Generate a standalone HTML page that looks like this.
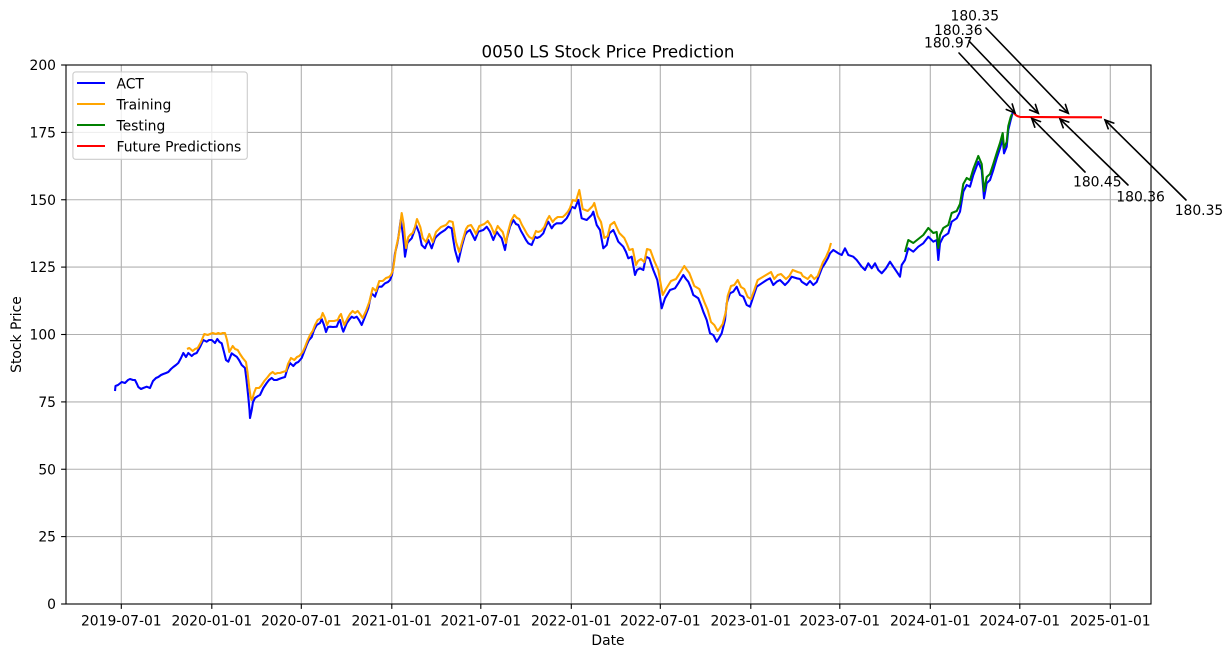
<!DOCTYPE html>
<html><head><meta charset="utf-8"><style>
html,body{margin:0;padding:0;background:#fff;}
svg{display:block;font-family:"DejaVu Sans","Liberation Sans",sans-serif;}
</style></head><body>
<svg width="1232" height="657" viewBox="0 0 1232 657" xmlns="http://www.w3.org/2000/svg">
<rect x="0" y="0" width="1232" height="657" fill="#fff"/>
<!-- grid -->
<g stroke="#b0b0b0" stroke-width="1.1" fill="none">
<line x1="121.3" y1="65" x2="121.3" y2="604"/>
<line x1="211.8" y1="65" x2="211.8" y2="604"/>
<line x1="301.3" y1="65" x2="301.3" y2="604"/>
<line x1="391.8" y1="65" x2="391.8" y2="604"/>
<line x1="480.8" y1="65" x2="480.8" y2="604"/>
<line x1="571.3" y1="65" x2="571.3" y2="604"/>
<line x1="660.3" y1="65" x2="660.3" y2="604"/>
<line x1="750.8" y1="65" x2="750.8" y2="604"/>
<line x1="839.8" y1="65" x2="839.8" y2="604"/>
<line x1="930.3" y1="65" x2="930.3" y2="604"/>
<line x1="1019.8" y1="65" x2="1019.8" y2="604"/>
<line x1="1110.3" y1="65" x2="1110.3" y2="604"/>
<line x1="66" y1="536.6" x2="1151" y2="536.6"/>
<line x1="66" y1="469.25" x2="1151" y2="469.25"/>
<line x1="66" y1="401.9" x2="1151" y2="401.9"/>
<line x1="66" y1="334.5" x2="1151" y2="334.5"/>
<line x1="66" y1="267.1" x2="1151" y2="267.1"/>
<line x1="66" y1="199.75" x2="1151" y2="199.75"/>
<line x1="66" y1="132.4" x2="1151" y2="132.4"/>
</g>
<!-- series -->
<g fill="none" stroke-width="2.08" stroke-linejoin="round" stroke-linecap="butt">
<polyline stroke="#0000ff" points="115,391 115.5,386 118,385 121.7,382 125,383 128,380 130,379 133,380 135,380 137,384 138.3,387 141,389 143.3,388 146.7,386.7 150,388 153,381 156,378 158.3,377 161,375 163.3,374 166,373 168.3,372 171,369 173.3,367 176,365 178.3,363 181,358 183.3,353 186,357 188.3,353 191.7,356 194,354 196.7,353 200,347 203.3,340 206.7,341.7 209,340 211.7,340 215,343 217.3,339 219.5,342 221.7,343.3 224,352 226,360 228.3,361.7 231.7,353.3 234,355 236.7,356.7 239,360 241.7,365 245,368 246.5,380 248.3,397 249.5,410 250,418 251.7,410 253,402 255,398 258,396 260,395 263.3,388 266.7,383 269,380 271.7,378 274,380 276.7,380 279,379 281.7,378 285,377 287,370 290,363 293.3,366 296,363 298.3,362 301.7,358 304,352 306.7,345 309,340 311.7,337 314,330 316.7,325 320,323 321.7,319 324,325 326,332 328,327 330,326.7 333,327 336.7,326.7 338.5,322 340,320 342,328 343.3,331.7 346.7,323.3 349,320 351.7,316.7 354,318 356.7,316.7 359,320 361.7,325 365,316.7 368.3,308.3 370,300 371.7,293.3 375,296.7 378.3,286.7 381.7,286.7 385,283.3 388,282 390,280 392,275 393.3,266.7 395,253.3 397,245 398.3,238 400.7,220 402.7,233 404,245 405,256.7 407.3,243.3 409,241 411.7,238.3 414,232 416,225 419.3,233.3 421.7,245 425,248.3 428.3,240 431.7,248.3 435,238.3 437,236 440,233.3 445,230 448.3,226.7 451.7,228.3 453,238 455,250 458.3,261.7 461.7,246.7 465,235 467,232 470,230 473,236 475,240 478.3,231.7 483.3,230 486.7,226.7 490,231.7 493.3,240 496.7,231.7 499,235 501.7,238.3 505,250 507,238 510,226.7 513.3,220 516,224 518.3,225 521,231 523.3,235 526,240 528.3,243.3 531.7,245 535,236.7 537,238 540,236.7 543.3,233.3 546,226 548.3,221.7 551.7,228.3 554,225 556.7,223.3 561.7,223.3 564,221 566.7,218.3 569,214 571.7,206.7 575,208.3 578.3,200 581.7,218.3 586.7,220 591.7,215 593.3,211.7 596.7,225 600,230 603.3,248.3 606.7,245 609.3,233.3 613.3,230 616,236 618.3,241.7 623.3,246.7 626,252 628.3,258.3 631.7,256.7 635,275 637,270 640,268.3 643.3,270 646,256.7 649.3,258.3 653.3,270 657.3,280 659,290 661.7,308.3 665,298.3 670,290 675,288.3 678.3,283.3 683.3,275 686,279 688.3,281.7 691,288 693.3,295 698.3,298.3 701,305 703.3,311.7 706.7,320 710,333.3 713.3,335 716.7,341.7 719,338 721.7,333.3 725,320 726.7,303.3 730,293.3 733.3,291.7 736.7,286.7 740,295 743.3,296.7 746.7,305 750,306.7 753.3,296.7 756.7,286.7 761.7,283.3 766.7,280 770,278.3 773.3,285 776.7,281.7 780,280 785,285 788.3,281.7 791.7,276.7 796.7,278.3 800,279 801.7,281.7 806.7,285 810,281 813.3,285 816.7,282 819.3,275 822,268 825,263.3 828,258 830,253.3 833.3,250 838.3,253.3 841.7,255 845,248.3 848.3,255 853.3,256.7 856.7,260 861.7,266.7 865,270 868.3,263.3 871.7,268.3 875,263.3 878.3,270 881.7,273.3 886,268.3 890,261.7 893.3,266.7 896.7,271.7 900,276.7 901.7,265 905,260 908.3,248.3 913.3,251.7 918.3,246.7 923.3,243.3 928.3,236.7 933.3,241.7 936.7,240 938.3,260 940,243.3 943.3,236.7 948.3,233.3 951.7,221.7 956.7,218.3 960,211.7 963.3,191.7 966.7,185 970,186.7 973.3,175 978.3,161.7 981.7,170 984,198.3 986.7,183.3 990,180 993.3,170 996.7,158.3 1000,148.3 1002.7,138.3 1004,153.3 1006.7,146.7 1008.3,130 1010.7,120 1012.7,112.7"/>
<polyline stroke="#ffa500" points="187,349 189.3,348 192.7,351 195,349 197.7,348 201,342 204.3,334 207.7,335 210,334 212.7,333 216,334 218.3,333 220.5,334 222.7,333 225,333 227,340 229.3,352 232.7,346 235,349 237.7,350 240,354 242.7,358 246,362 247.5,372 249.3,388 250.5,396 251.5,400 252.7,398 254,393 256,388 259,388 261,386 264.3,381 267.7,377 270,374 272.7,372 275,374 277.7,373 280,373 282.7,372 286,371 288,364 291,358 294.3,360 297,357 299.3,356 302.7,352 305,347 307.7,340 310,335 312.7,331 315,325 317.7,320 321,318 322.7,313 325,318 327,325 329,321 331,321 334,321 337.7,320 339.5,316 341,314 343,321 344.3,325 347.7,318 350,314 352.7,311 355,313 357.7,311 360,314 362.7,318 366,311 369.3,302 371,295 372.7,288 376,291 379.3,281 382.7,281 386,278 389,277 391,275 393,270 394.3,261 396,248 398,239 399.3,232 401.7,213 403.7,224 405,238 406,248 408.3,237 410,235 412.7,233 415,227 417,219 420.3,227 422.7,238 426,242 429.3,234 432.7,242 436,232 438,230 441,227 446,225 449.3,221 452.7,222 454,230 456,242 459.3,252 462.7,240 466,229 468,226 471,225 474,230 476,234 479.3,226 484.3,224 487.7,221 491,226 494.3,234 497.7,226 500,229 502.7,232 506,243 508,232 511,221 514.3,215 517,218 519.3,219 522,225 524.3,229 527,234 529.3,237 532.7,239 536,231 538,232 541,231 544.3,227 547,220 549.3,216 552.7,222 555,219 557.7,217 562.7,217 565,215 567.7,212 570,208 572.7,200 576,201 579.3,190 582.7,209 587.7,211 592.7,206 594.3,203 597.7,216 601,222 604.3,238 607.7,236 610.3,225 614.3,222 617,228 619.3,233 624.3,238 627,244 629.3,250 632.7,249 636,265 638,261 641,259 644.3,262 647,249 650.3,250 654.3,261 658.3,270 660,280 662.7,295 666,289 671,281 676,279 679.3,274 684.3,266 687,270 689.3,273 692,280 694.3,286 699.3,289 702,296 704.3,302 707.7,310 711,322 714.3,325 717.7,331 720,328 722.7,324 726,311 727.7,296 731,286 734.3,285 737.7,280 741,287 744.3,289 747.7,297 751,299 754.3,290 757.7,280 762.7,277 767.7,274 771,272 774.3,279 777.7,275 781,274 786,279 789.3,276 792.7,270 797.7,272 801,273 802.7,276 807.7,279 811,275 814.3,279 817.7,276 820.3,269 823,262 826,257 829,250 831,243"/>
<polyline stroke="#008000" points="905,252 908.3,240 913.3,243 918.3,239 923.3,235 928.3,228 933.3,233 936.7,232 938.3,248 940,235 943.3,228 948.3,225 951.7,213 956.7,211 960,204 963.3,184 966.7,178 970,180 973.3,169 978.3,156 981.7,164 984,191 986.7,177 990,174 993.3,164 996.7,153 1000,143 1002.7,133 1004,148 1006.7,142 1008.3,126 1010.7,117 1012,114"/>
<path stroke="#ff0000" d="M1013.3,111.7 Q1015.5,116.3 1020,116.9 L1060,117.2 L1102,117.3"/>
</g>
<!-- axes spines -->
<rect x="66" y="65" width="1085" height="539" fill="none" stroke="#000" stroke-width="1.1"/>
<!-- ticks -->
<g stroke="#000" stroke-width="1.1">
<line x1="121.3" y1="604" x2="121.3" y2="608.9"/>
<line x1="211.8" y1="604" x2="211.8" y2="608.9"/>
<line x1="301.3" y1="604" x2="301.3" y2="608.9"/>
<line x1="391.8" y1="604" x2="391.8" y2="608.9"/>
<line x1="480.8" y1="604" x2="480.8" y2="608.9"/>
<line x1="571.3" y1="604" x2="571.3" y2="608.9"/>
<line x1="660.3" y1="604" x2="660.3" y2="608.9"/>
<line x1="750.8" y1="604" x2="750.8" y2="608.9"/>
<line x1="839.8" y1="604" x2="839.8" y2="608.9"/>
<line x1="930.3" y1="604" x2="930.3" y2="608.9"/>
<line x1="1019.8" y1="604" x2="1019.8" y2="608.9"/>
<line x1="1110.3" y1="604" x2="1110.3" y2="608.9"/>
<line x1="61.1" y1="604" x2="66" y2="604"/>
<line x1="61.1" y1="536.6" x2="66" y2="536.6"/>
<line x1="61.1" y1="469.25" x2="66" y2="469.25"/>
<line x1="61.1" y1="401.9" x2="66" y2="401.9"/>
<line x1="61.1" y1="334.5" x2="66" y2="334.5"/>
<line x1="61.1" y1="267.1" x2="66" y2="267.1"/>
<line x1="61.1" y1="199.75" x2="66" y2="199.75"/>
<line x1="61.1" y1="132.4" x2="66" y2="132.4"/>
<line x1="61.1" y1="65" x2="66" y2="65"/>
</g>
<g font-size="13.89" fill="#000" text-anchor="middle">
<text x="121.3" y="625.7">2019-07-01</text>
<text x="211.8" y="625.7">2020-01-01</text>
<text x="301.3" y="625.7">2020-07-01</text>
<text x="391.8" y="625.7">2021-01-01</text>
<text x="480.8" y="625.7">2021-07-01</text>
<text x="571.3" y="625.7">2022-01-01</text>
<text x="660.3" y="625.7">2022-07-01</text>
<text x="750.8" y="625.7">2023-01-01</text>
<text x="839.8" y="625.7">2023-07-01</text>
<text x="930.3" y="625.7">2024-01-01</text>
<text x="1019.8" y="625.7">2024-07-01</text>
<text x="1110.3" y="625.7">2025-01-01</text>
</g>
<g font-size="13.89" fill="#000" text-anchor="end">
<text x="56" y="609.1">0</text>
<text x="56" y="541.7">25</text>
<text x="56" y="474.3">50</text>
<text x="56" y="407">75</text>
<text x="56" y="339.6">100</text>
<text x="56" y="272.2">125</text>
<text x="56" y="204.8">150</text>
<text x="56" y="137.5">175</text>
<text x="56" y="70.1">200</text>
</g>
<text x="608" y="645" font-size="13.89" text-anchor="middle">Date</text>
<text transform="translate(21,334.5) rotate(-90)" font-size="13.89" text-anchor="middle">Stock Price</text>
<text x="608" y="57.7" font-size="16.67" text-anchor="middle">0050 LS Stock Price Prediction</text>
<!-- legend -->
<rect x="72.9" y="71.9" width="174.4" height="87.4" rx="2.8" fill="#fff" fill-opacity="0.8" stroke="#cccccc" stroke-width="1.1"/>
<g stroke-width="2.08">
<line x1="77" y1="83" x2="105" y2="83" stroke="#0000ff"/>
<line x1="77" y1="104" x2="105" y2="104" stroke="#ffa500"/>
<line x1="77" y1="125" x2="105" y2="125" stroke="#008000"/>
<line x1="77" y1="146" x2="105" y2="146" stroke="#ff0000"/>
</g>
<g font-size="13.89" fill="#000">
<text x="116.5" y="88.5">ACT</text>
<text x="116.5" y="109.5">Training</text>
<text x="116.5" y="130.5">Testing</text>
<text x="116.5" y="151.5">Future Predictions</text>
</g>
<!-- annotations -->
<g font-size="13.89" fill="#000">
<text x="950.5" y="20.7">180.35</text>
<text x="934" y="35">180.36</text>
<text x="924" y="47.3">180.97</text>
<text x="1073" y="186.7">180.45</text>
<text x="1116.3" y="201.7">180.36</text>
<text x="1174.7" y="215">180.35</text>
</g>
<g stroke="#000" stroke-width="1.6" fill="none" stroke-linecap="round" stroke-linejoin="miter">
<line x1="959" y1="53" x2="1015" y2="113"/>
<polyline points="1006.3,109.5 1015,113 1012.2,104"/>
<line x1="969" y1="41" x2="1038.3" y2="113.3"/>
<polyline points="1029.6,109.9 1038.3,113.3 1035.4,104.4"/>
<line x1="986" y1="28" x2="1068.3" y2="113.3"/>
<polyline points="1059.6,109.9 1068.3,113.3 1065.4,104.4"/>
<line x1="1085" y1="172" x2="1031.7" y2="118.3"/>
<polyline points="1040.5,121.6 1031.7,118.3 1034.8,127.2"/>
<line x1="1128" y1="185" x2="1060" y2="119"/>
<polyline points="1068.8,122.1 1060,119 1063.2,127.8"/>
<line x1="1186" y1="200" x2="1105" y2="120"/>
<polyline points="1113.8,123.1 1105,120 1108.2,128.8"/>
</g>
</svg>
</body></html>
